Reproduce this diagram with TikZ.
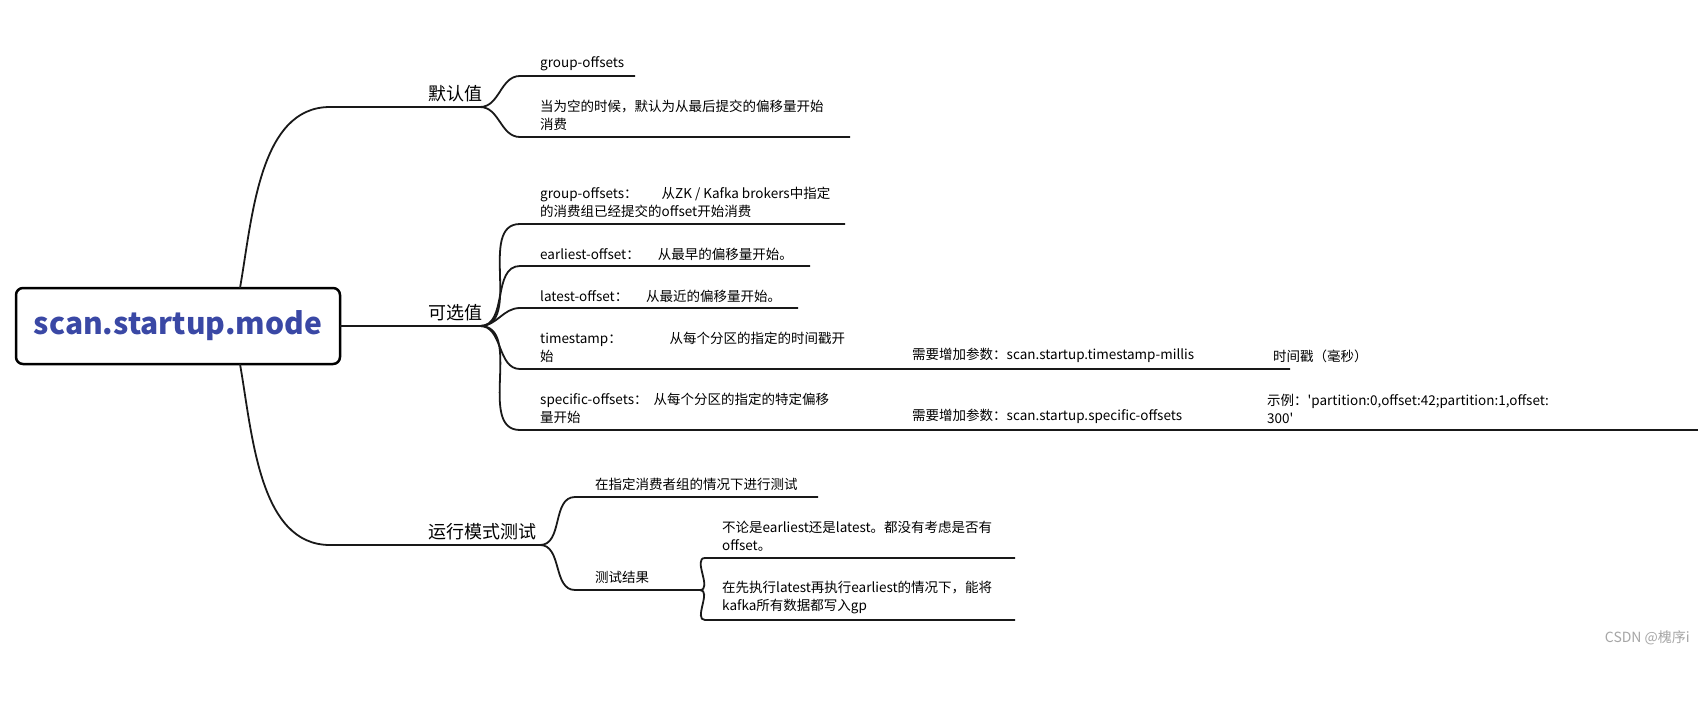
\documentclass[tikz,border=0pt]{standalone}
\usepackage{fontspec}
\setmainfont{Noto Sans CJK SC}
\newfontfamily\nolig{Noto Sans CJK SC}
\begin{document}
\begin{tikzpicture}[x=1pt,y=-1pt,
  br/.style={line width=1.8pt,draw=black!90},
  lbl/.style={anchor=south west,inner sep=0pt,align=left,font=\fontsize{13.5}{18}\selectfont},
  big/.style={anchor=south west,inner sep=0pt,font=\fontsize{18}{22}\selectfont}]
\useasboundingbox (0,0) rectangle (1698,709);
\fill[white] (0,0) rectangle (1698,709);
\definecolor{ttl}{RGB}{58,72,165}
% root
\node[draw,line width=2.5pt,rounded corners=7pt,minimum width=324pt,minimum height=76pt,font=\fontsize{30}{34}\selectfont\bfseries,text=ttl] (root) at (178,326) {scan.startup.mode};
\coordinate (rt) at (240,288);
\coordinate (rm) at (340,326);
\coordinate (rb) at (240,364);
% level 1
\coordinate (d0) at (330,107); \coordinate (d1) at (480,107);
\coordinate (k0) at (340,326); \coordinate (k1) at (480,326);
\coordinate (y0) at (330,545); \coordinate (y1) at (540,545);
\draw[br] (rt) to[out=80,in=180,looseness=0.9] (d0) -- (d1);
\draw[br] (rm) -- (k1);
\draw[br] (rb) to[out=-80,in=180,looseness=0.9] (y0) -- (y1);
\node[big] (tdef) at (428,102) {默认值};
\node[big] (topt) at (428,321) {可选值};
\node[big] (trun) at (428,540) {运行模式测试};
% defaults children
\coordinate (a0) at (520,76); \coordinate (a1) at (635,76);
\coordinate (b0) at (520,137); \coordinate (b1) at (850,137);
\draw[br] (d1) to[out=0,in=180] (a0) -- (a1);
\draw[br] (d1) to[out=0,in=180] (b0) -- (b1);
\node[lbl] (ta) at (540,71) {group-offsets};
\node[lbl] (tb) at (540,131) {当为空的时候，默认为从最后提交的偏移量开始\\消费};
% optional children
\coordinate (c0) at (520,224); \coordinate (c1) at (845,224);
\coordinate (e0) at (520,266); \coordinate (e1) at (810,266);
\coordinate (l0) at (520,308); \coordinate (l1) at (798,308);
\coordinate (s0) at (520,369); \coordinate (s1) at (1290,369);
\coordinate (p0) at (520,430); \coordinate (p1) at (1698,430);
\foreach \u/\v in {c0/c1,e0/e1,l0/l1,s0/s1,p0/p1}
  \draw[br] (k1) to[out=0,in=180] (\u) -- (\v);
\node[lbl] (tc) at (540,218) {group-offsets：\hspace{24pt}从ZK / Kafka brokers中指定\\的消费组已经提交的offset开始消费};
\node[lbl] (te) at (540,261) {earliest-offset：\hspace{18pt}从最早的偏移量开始。};
\node[lbl] (tl) at (540,303) {latest-offset：\hspace{18pt}从最近的偏移量开始。};
\node[lbl] (ts) at (540,363) {timestamp：\hspace{48pt}从每个分区的指定的时间戳开\\始};
\node[lbl] (ts2) at (912,363) {需要增加参数：scan.startup.timestamp-millis};
\node[lbl] (ts3) at (1273,363) {时间戳（毫秒）};
\node[lbl] (tp) at (540,424) {specific-offsets：\hspace{6pt}从每个分区的指定的特定偏移\\量开始};
\node[lbl] (tp2) at (912,424) {需要增加参数：scan.startup.specific-offsets};
\node[lbl] (tp3) at (1267,424) {示例：{\nolig'}partition:0,offset:42;partition:1,offset:\\300{\nolig'}};
% run children
\coordinate (f0) at (575,497); \coordinate (f1) at (818,497);
\coordinate (g0) at (575,590); \coordinate (g1) at (700,590);
\draw[br] (y1) to[out=0,in=180] (f0) -- (f1);
\draw[br] (y1) to[out=0,in=180] (g0) -- (g1);
\node[lbl] (tf) at (595,491) {在指定消费者组的情况下进行测试};
\node[lbl] (tg) at (595,584) {测试结果};
\coordinate (h0) at (705,558); \coordinate (h1) at (1015,558);
\coordinate (i0) at (705,620); \coordinate (i1) at (1015,620);
\draw[br] (g1) to[out=0,in=180] (h0) -- (h1);
\draw[br] (g1) to[out=0,in=180] (i0) -- (i1);
\node[lbl] (th) at (722,552) {不论是earliest还是latest。都没有考虑是否有\\offset。};
\node[lbl] (ti) at (722,614) {在先执行latest再执行earliest的情况下，能将\\kafka所有数据都写入gp};
\node[anchor=south east,inner sep=0pt,text=black!35,font=\fontsize{14}{16}\selectfont] (wm) at (1690,645) {CSDN @槐序i};
\end{tikzpicture}
\end{document}
